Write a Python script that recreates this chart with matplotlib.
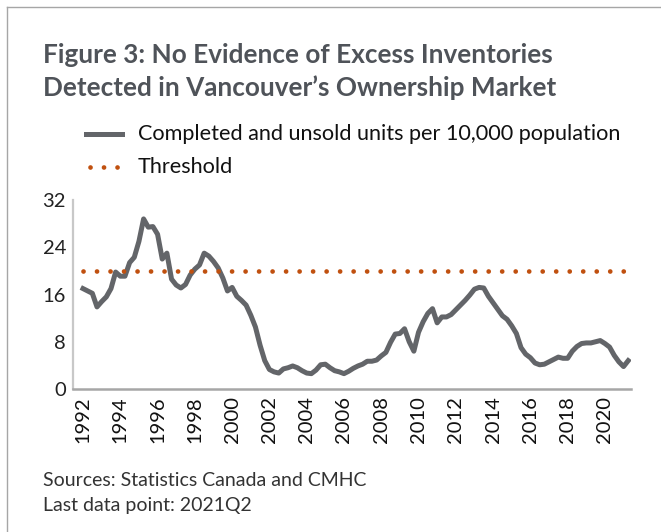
import matplotlib.pyplot as plt
from matplotlib.lines import Line2D

# quarterly series, 1992Q1 .. 2021Q2
years = list(range(1992, 2021, 2))
units = [
    17.0, 16.6, 16.2, 13.9, 14.8, 15.6, 17.0, 19.8, 19.1, 19.1,
    21.4, 22.3, 25.0, 28.8, 27.4, 27.5, 26.2, 22.0, 23.0, 18.6,
    17.6, 17.1, 17.7, 19.3, 20.3, 21.0, 23.0, 22.5, 21.6, 20.5,
    18.8, 16.6, 17.2, 15.7, 15.0, 14.2, 12.5, 10.5, 7.4, 4.8,
    3.3, 2.9, 2.7, 3.4, 3.6, 3.9, 3.6, 3.1, 2.7, 2.6,
    3.2, 4.1, 4.2, 3.6, 3.1, 2.9, 2.6, 3.0, 3.5, 3.9,
    4.2, 4.7, 4.7, 4.9, 5.6, 6.2, 7.9, 9.3, 9.4, 10.2,
    8.0, 6.4, 9.6, 11.4, 12.8, 13.6, 11.2, 12.2, 12.2, 12.6,
    13.4, 14.2, 15.0, 15.9, 16.9, 17.2, 17.1, 15.7, 14.6, 13.5,
    12.4, 11.8, 10.7, 9.4, 7.0, 5.9, 5.3, 4.4, 4.1, 4.2,
    4.6, 5.0, 5.4, 5.2, 5.2, 6.4, 7.2, 7.7, 7.8, 7.8,
    8.0, 8.2, 7.7, 7.1, 5.7, 4.6, 3.8, 4.8,
]
threshold = 20
yticks = [0, 8, 16, 24, 32]

q = list(range(len(units)))

fig = plt.figure(figsize=(6.61, 5.32), dpi=100)
plt.rcParams['font.family'] = ['Lato', 'DejaVu Sans']

# frame lines (top and left)
fig.add_artist(Line2D([7/661, 1], [1 - 7/532, 1 - 7/532], color='#a6a6a6', lw=1))
fig.add_artist(Line2D([7/661, 7/661], [0, 1 - 7/532], color='#a6a6a6', lw=1))

ax = fig.add_axes([73/661, 1 - 389/532, (631 - 73)/661, (389 - 200)/532])
ax.plot(q, units, color='#636569', lw=3.6, solid_joinstyle='round')
ax.plot(q, [threshold] * len(q), color='#c0500f', lw=3.4,
        linestyle=(0, (0.01, 2.85)), dash_capstyle='round')

ax.set_xlim(-2.15, 117.6)
ax.set_ylim(0, 32)
ax.set_yticks(yticks)
ax.set_yticklabels([str(v) for v in yticks], fontsize=14.5, color='#222222')
ax.set_xticks(q[::8])
ax.set_xticklabels([str(y) for y in years], rotation=90, fontsize=14.5,
                   color='#111111')
ax.tick_params(length=0, pad=5)
for s in ['top', 'right']:
    ax.spines[s].set_visible(False)
ax.spines['left'].set_color('#c8c8c8')
ax.spines['left'].set_linewidth(1.6)
ax.spines['bottom'].set_color('#a6a6a6')
ax.spines['bottom'].set_linewidth(1.8)

fig.text(43/661, 1 - 55/532, 'Figure 3: No Evidence of Excess Inventories',
         fontsize=18.8, fontweight='bold', color='#4f5359', va='center')
fig.text(43/661, 1 - 88/532, 'Detected in Vancouver\u2019s Ownership Market',
         fontsize=18.8, fontweight='bold', color='#4f5359', va='center')

# legend
fig.add_artist(Line2D([86/661, 122/661], [1 - 134/532] * 2, color='#636569', lw=3.6))
fig.add_artist(Line2D([90/661, 120/661], [1 - 167/532] * 2, color='#c0500f', lw=3.4,
                      linestyle=(0, (0.01, 2.85)), dash_capstyle='round'))
fig.text(138/661, 1 - 134/532, 'Completed and unsold units per 10,000 population',
         fontsize=15.6, color='#111111', va='center')
fig.text(138/661, 1 - 167/532, 'Threshold', fontsize=15.6, color='#111111', va='center')

fig.text(43/661, 1 - 480/532, 'Sources: Statistics Canada and CMHC',
         fontsize=14, color='#333333', va='center')
fig.text(43/661, 1 - 506/532, 'Last data point: 2021Q2',
         fontsize=14, color='#333333', va='center')

fig.savefig('out.png', dpi=100)
